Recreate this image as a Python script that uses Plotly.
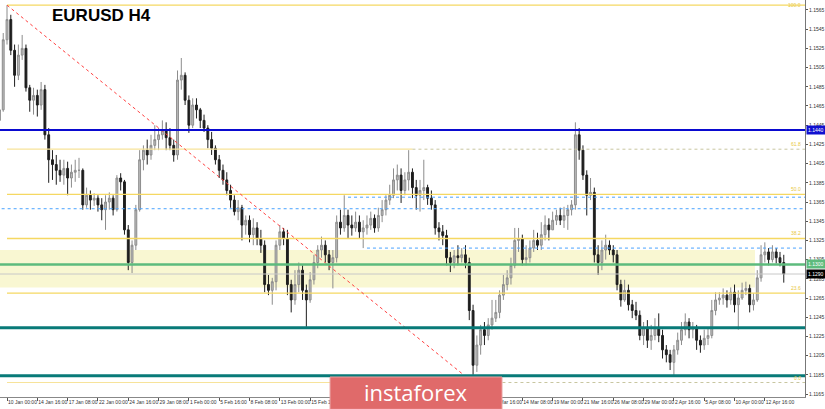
import plotly.graph_objects as go

# ---------------- data (EURUSD H4, one candle per 8h period) ----------------
period_index = list(range(-2, 206))

opens = [1.1450,1.1461,1.1534,1.1555,1.1523,1.1497,1.1518,1.1525,1.1484,1.1471,
1.1476,1.1466,1.1482,1.1435,1.1409,1.1404,1.1398,1.1393,1.1400,1.1390,
1.1396,1.1398,1.1398,1.1362,1.1372,1.1367,1.1369,1.1362,1.1357,1.1365,
1.1369,1.1357,1.1390,1.1386,1.1336,1.1302,1.1320,1.1357,1.1409,1.1419,
1.1414,1.1424,1.1430,1.1435,1.1440,1.1432,1.1424,1.1414,1.1492,1.1497,
1.1471,1.1445,1.1466,1.1461,1.1450,1.1442,1.1430,1.1421,1.1409,1.1398,
1.1388,1.1377,1.1367,1.1355,1.1359,1.1341,1.1346,1.1331,1.1338,1.1327,
1.1320,1.1279,1.1273,1.1282,1.1320,1.1334,1.1327,1.1279,1.1263,1.1279,
1.1294,1.1273,1.1263,1.1284,1.1302,1.1315,1.1320,1.1310,1.1302,1.1307,
1.1344,1.1338,1.1351,1.1341,1.1338,1.1344,1.1334,1.1338,1.1341,1.1348,
1.1338,1.1351,1.1357,1.1367,1.1372,1.1388,1.1393,1.1377,1.1388,1.1396,
1.1380,1.1372,1.1377,1.1380,1.1369,1.1362,1.1338,1.1334,1.1330,1.1307,
1.1302,1.1309,1.1307,1.1310,1.1302,1.1252,1.1195,1.1216,1.1232,1.1226,
1.1237,1.1244,1.1250,1.1268,1.1279,1.1286,1.1299,1.1325,1.1327,1.1305,
1.1307,1.1317,1.1325,1.1320,1.1331,1.1341,1.1336,1.1346,1.1351,1.1346,
1.1351,1.1357,1.1362,1.1435,1.1419,1.1393,1.1372,1.1375,1.1310,1.1302,
1.1315,1.1320,1.1315,1.1310,1.1279,1.1263,1.1273,1.1258,1.1252,1.1247,
1.1226,1.1234,1.1221,1.1226,1.1234,1.1226,1.1211,1.1206,1.1198,1.1211,
1.1221,1.1232,1.1240,1.1232,1.1234,1.1221,1.1216,1.1223,1.1226,1.1252,
1.1263,1.1265,1.1268,1.1263,1.1271,1.1258,1.1265,1.1273,1.1275,1.1258,
1.1263,1.1286,1.1310,1.1313,1.1305,1.1313,1.1307,1.1302]

highs = [1.1466,1.1541,1.1570,1.1560,1.1529,1.1529,1.1539,1.1529,1.1487,1.1484,
1.1482,1.1490,1.1487,1.1442,1.1419,1.1414,1.1409,1.1409,1.1407,1.1404,
1.1409,1.1411,1.1400,1.1380,1.1377,1.1374,1.1372,1.1369,1.1372,1.1375,
1.1372,1.1393,1.1395,1.1388,1.1341,1.1325,1.1362,1.1419,1.1424,1.1430,
1.1435,1.1445,1.1442,1.1450,1.1448,1.1442,1.1430,1.1502,1.1515,1.1500,
1.1476,1.1473,1.1473,1.1463,1.1456,1.1445,1.1438,1.1424,1.1414,1.1404,
1.1396,1.1383,1.1372,1.1367,1.1362,1.1351,1.1351,1.1348,1.1344,1.1336,
1.1325,1.1289,1.1286,1.1325,1.1341,1.1338,1.1336,1.1284,1.1294,1.1302,
1.1299,1.1279,1.1292,1.1310,1.1320,1.1329,1.1325,1.1315,1.1315,1.1351,
1.1357,1.1372,1.1357,1.1351,1.1355,1.1351,1.1346,1.1351,1.1355,1.1352,
1.1359,1.1367,1.1372,1.1383,1.1400,1.1404,1.1400,1.1396,1.1419,1.1400,
1.1388,1.1388,1.1409,1.1383,1.1377,1.1367,1.1344,1.1341,1.1336,1.1313,
1.1315,1.1320,1.1317,1.1320,1.1307,1.1258,1.1226,1.1237,1.1240,1.1244,
1.1263,1.1263,1.1273,1.1289,1.1294,1.1307,1.1338,1.1338,1.1331,1.1320,
1.1325,1.1336,1.1333,1.1344,1.1351,1.1348,1.1355,1.1357,1.1359,1.1360,
1.1362,1.1367,1.1448,1.1442,1.1424,1.1398,1.1390,1.1380,1.1320,1.1325,
1.1331,1.1325,1.1320,1.1315,1.1284,1.1284,1.1279,1.1263,1.1261,1.1252,
1.1240,1.1242,1.1237,1.1244,1.1249,1.1232,1.1216,1.1211,1.1216,1.1229,
1.1240,1.1249,1.1244,1.1240,1.1237,1.1226,1.1232,1.1234,1.1263,1.1271,
1.1271,1.1275,1.1273,1.1276,1.1279,1.1273,1.1281,1.1282,1.1279,1.1270,
1.1294,1.1320,1.1323,1.1317,1.1320,1.1317,1.1313,1.1310]

lows = [1.1440,1.1459,1.1529,1.1518,1.1485,1.1492,1.1513,1.1480,1.1459,1.1456,
1.1454,1.1461,1.1430,1.1385,1.1388,1.1383,1.1386,1.1383,1.1372,1.1380,
1.1386,1.1390,1.1357,1.1359,1.1357,1.1361,1.1355,1.1346,1.1336,1.1357,
1.1351,1.1355,1.1377,1.1331,1.1294,1.1291,1.1315,1.1355,1.1398,1.1404,
1.1409,1.1419,1.1419,1.1430,1.1419,1.1419,1.1407,1.1409,1.1482,1.1466,
1.1437,1.1442,1.1452,1.1442,1.1438,1.1421,1.1414,1.1404,1.1390,1.1383,
1.1372,1.1359,1.1351,1.1346,1.1325,1.1331,1.1323,1.1320,1.1320,1.1312,
1.1271,1.1268,1.1258,1.1273,1.1315,1.1320,1.1268,1.1250,1.1258,1.1271,
1.1263,1.1235,1.1260,1.1279,1.1296,1.1307,1.1302,1.1294,1.1275,1.1302,
1.1331,1.1334,1.1327,1.1330,1.1334,1.1327,1.1317,1.1331,1.1336,1.1333,
1.1334,1.1344,1.1351,1.1362,1.1369,1.1377,1.1364,1.1372,1.1377,1.1369,
1.1357,1.1355,1.1367,1.1362,1.1357,1.1331,1.1325,1.1320,1.1299,1.1292,
1.1296,1.1299,1.1302,1.1296,1.1242,1.1185,1.1188,1.1206,1.1216,1.1221,
1.1232,1.1240,1.1244,1.1263,1.1273,1.1279,1.1296,1.1313,1.1299,1.1299,
1.1302,1.1313,1.1315,1.1315,1.1325,1.1325,1.1336,1.1341,1.1341,1.1338,
1.1336,1.1351,1.1357,1.1409,1.1388,1.1351,1.1367,1.1302,1.1289,1.1294,
1.1305,1.1310,1.1302,1.1273,1.1256,1.1261,1.1252,1.1244,1.1242,1.1221,
1.1216,1.1213,1.1211,1.1221,1.1219,1.1202,1.1198,1.1190,1.1184,1.1206,
1.1216,1.1226,1.1223,1.1223,1.1211,1.1208,1.1211,1.1216,1.1223,1.1247,
1.1258,1.1258,1.1255,1.1258,1.1250,1.1232,1.1263,1.1268,1.1250,1.1252,
1.1261,1.1282,1.1302,1.1299,1.1302,1.1301,1.1298,1.1281]

closes = [1.1461,1.1534,1.1555,1.1523,1.1497,1.1518,1.1525,1.1484,1.1471,1.1476,
1.1466,1.1482,1.1435,1.1409,1.1404,1.1398,1.1393,1.1400,1.1390,1.1396,
1.1398,1.1398,1.1362,1.1372,1.1367,1.1369,1.1362,1.1357,1.1365,1.1369,
1.1357,1.1390,1.1386,1.1336,1.1302,1.1320,1.1357,1.1409,1.1419,1.1414,
1.1424,1.1430,1.1435,1.1440,1.1432,1.1424,1.1414,1.1492,1.1497,1.1471,
1.1445,1.1466,1.1461,1.1450,1.1442,1.1430,1.1421,1.1409,1.1398,1.1388,
1.1377,1.1367,1.1355,1.1359,1.1341,1.1346,1.1331,1.1338,1.1327,1.1320,
1.1279,1.1273,1.1282,1.1320,1.1334,1.1327,1.1279,1.1263,1.1279,1.1294,
1.1273,1.1263,1.1284,1.1302,1.1315,1.1320,1.1310,1.1302,1.1307,1.1344,
1.1338,1.1351,1.1341,1.1338,1.1344,1.1334,1.1338,1.1341,1.1348,1.1338,
1.1351,1.1357,1.1367,1.1372,1.1388,1.1393,1.1377,1.1388,1.1396,1.1380,
1.1372,1.1377,1.1380,1.1369,1.1362,1.1338,1.1334,1.1330,1.1307,1.1302,
1.1309,1.1307,1.1310,1.1302,1.1252,1.1195,1.1216,1.1232,1.1226,1.1237,
1.1244,1.1250,1.1268,1.1279,1.1286,1.1299,1.1325,1.1327,1.1305,1.1307,
1.1317,1.1325,1.1320,1.1331,1.1341,1.1336,1.1346,1.1351,1.1346,1.1351,
1.1357,1.1362,1.1435,1.1419,1.1393,1.1372,1.1375,1.1310,1.1302,1.1315,
1.1320,1.1315,1.1310,1.1279,1.1263,1.1273,1.1258,1.1252,1.1247,1.1226,
1.1234,1.1221,1.1226,1.1234,1.1226,1.1211,1.1206,1.1198,1.1211,1.1221,
1.1232,1.1240,1.1232,1.1234,1.1221,1.1216,1.1223,1.1226,1.1252,1.1263,
1.1265,1.1268,1.1263,1.1271,1.1258,1.1265,1.1273,1.1275,1.1258,1.1263,
1.1286,1.1310,1.1313,1.1305,1.1313,1.1307,1.1302,1.1290]

time_labels = ["10 Jan 00:00", "14 Jan 16:00", "17 Jan 08:00", "22 Jan 00:00",
               "24 Jan 16:00", "29 Jan 08:00", "1 Feb 00:00", "5 Feb 16:00",
               "8 Feb 08:00", "13 Feb 00:00", "15 Feb 16:00", "20 Feb 08:00",
               "25 Feb 00:00", "27 Feb 16:00", "4 Mar 08:00", "7 Mar 00:00",
               "11 Mar 16:00", "14 Mar 08:00", "19 Mar 00:00", "21 Mar 16:00",
               "26 Mar 08:00", "29 Mar 00:00", "2 Apr 16:00", "5 Apr 08:00",
               "10 Apr 00:00", "12 Apr 16:00"]
time_label_periods = [i * 8 for i in range(len(time_labels))]

price_ticks = [1.1565, 1.1545, 1.1525, 1.1505, 1.1485, 1.1465, 1.1445, 1.1425,
               1.1405, 1.1385, 1.1365, 1.1345, 1.1325, 1.1305, 1.1285, 1.1265,
               1.1245, 1.1225, 1.1205, 1.1185, 1.1165]

fib_levels = [1.1570, 1.1420, 1.1373, 1.1327, 1.1270, 1.1177]
fib_names = ["100.0", "61.8", "50.0", "38.2", "23.6", "0.0"]
fib_from = [0, 0, 0, 0, 0, 0]
fib_solid_to = [None, 107, None, None, None, 107]   # where a level turns dotted
fib_anchor_periods = [0, 123]
fib_anchor_prices = [1.1570, 1.1177]

resistance_level = 1.1440
pivot_level = 1.1300
current_price = 1.1290
support_levels = [1.1234, 1.1184]
dotted_levels = [1.1358, 1.1370, 1.1317]
dotted_from = [None, 90, 95]
zone_low, zone_high, zone_end = 1.1276, 1.1315, 197.4

# ---------------- figure ----------------
fig = go.Figure()
fig.add_trace(go.Candlestick(
    x=period_index, open=opens, high=highs, low=lows, close=closes,
    increasing=dict(line=dict(color="#8c8c8c", width=1), fillcolor="#bdbdbd"),
    decreasing=dict(line=dict(color="#1e1e1e", width=1), fillcolor="#1e1e1e"),
    whiskerwidth=0, showlegend=False, hoverinfo="skip"))

shapes = []
shapes.append(dict(type="rect", xref="x", yref="y", x0=-3, x1=zone_end,
                   y0=zone_low, y1=zone_high, fillcolor="#f9f7d2",
                   line=dict(width=0), layer="below"))
for lvl, start, solid_to in zip(fib_levels, fib_from, fib_solid_to):
    if solid_to is None:
        shapes.append(dict(type="line", xref="x", yref="y", x0=start, x1=212,
                           y0=lvl, y1=lvl, line=dict(color="#f5d862", width=1.3)))
    else:
        shapes.append(dict(type="line", xref="x", yref="y", x0=start, x1=solid_to,
                           y0=lvl, y1=lvl, line=dict(color="#f7e39a", width=1.2)))
        shapes.append(dict(type="line", xref="x", yref="y", x0=solid_to, x1=212,
                           y0=lvl, y1=lvl,
                           line=dict(color="#c8c6a0", width=1, dash="dot")))
shapes.append(dict(type="line", xref="x", yref="y",
                   x0=fib_anchor_periods[0], x1=fib_anchor_periods[1],
                   y0=fib_anchor_prices[0], y1=fib_anchor_prices[1],
                   line=dict(color="#ff4040", width=1, dash="dot")))
for lvl, start in zip(dotted_levels, dotted_from):
    shapes.append(dict(type="line", xref="x", yref="y",
                       x0=-3 if start is None else start, x1=212, y0=lvl, y1=lvl,
                       line=dict(color="#4aa3ff", width=1, dash="dot")))
shapes.append(dict(type="line", xref="x domain", yref="y", x0=0, x1=1,
                   y0=resistance_level, y1=resistance_level,
                   line=dict(color="#0a0ad0", width=2)))
shapes.append(dict(type="line", xref="x domain", yref="y", x0=0, x1=1,
                   y0=current_price, y1=current_price,
                   line=dict(color="#c8c8c8", width=1)))
shapes.append(dict(type="line", xref="x domain", yref="y", x0=0, x1=1,
                   y0=pivot_level, y1=pivot_level,
                   line=dict(color="#5dbb7d", width=2.5)))
for lvl in support_levels:
    shapes.append(dict(type="line", xref="x domain", yref="y", x0=0, x1=1,
                       y0=lvl, y1=lvl, line=dict(color="#087a78", width=3)))
shapes.append(dict(type="rect", xref="paper", yref="paper",
                   x0=0.41, x1=0.6236, y0=0.0504, y1=-0.031,
                   fillcolor="#e06a6a", line=dict(color="#eaa0a0", width=1),
                   layer="above"))

annotations = []
annotations.append(dict(text="<b>EURUSD H4</b>", xref="paper", yref="paper",
                        x=0.062, y=0.96, xanchor="left", yanchor="middle",
                        showarrow=False,
                        font=dict(family="Liberation Sans, Arial", size=17,
                                  color="#000000")))
annotations.append(dict(text="instaforex", xref="paper", yref="paper",
                        x=0.517, y=0.012, xanchor="center", yanchor="middle",
                        showarrow=False,
                        font=dict(family="Open Sans", size=22, color="#ffffff")))
for i, (lvl, name) in enumerate(zip(fib_levels, fib_names)):
    annotations.append(dict(text=name, xref="paper", yref="y", x=0.998, y=lvl,
                            xanchor="right",
                            yanchor="middle" if i == 0 else "bottom",
                            showarrow=False,
                            font=dict(family="Liberation Sans", size=5,
                                      color="#e8c840")))
for lvl, bg in [(resistance_level, "#1010d0"), (pivot_level, "#5dbb7d"),
                (current_price, "#000000")]:
    annotations.append(dict(text=f"{lvl:.4f}", xref="paper", yref="y", x=1.0,
                            y=lvl, xanchor="left", yanchor="middle", xshift=1,
                            showarrow=False, bgcolor=bg, borderpad=1,
                            font=dict(family="Liberation Sans", size=5,
                                      color="#ffffff")))

fig.update_layout(
    width=825, height=409,
    margin=dict(l=0, r=20, t=0, b=12),
    paper_bgcolor="#ffffff", plot_bgcolor="#ffffff",
    shapes=shapes, annotations=annotations, showlegend=False,
    xaxis=dict(range=[-1.85, 210.6], rangeslider=dict(visible=False),
               tickvals=time_label_periods, ticktext=time_labels,
               tickangle=0,
               ticklabelposition="outside right", ticks="outside", ticklen=3,
               tickcolor="#555555", showgrid=False, zeroline=False,
               showline=True, linecolor="#888888", linewidth=1,
               automargin=False,
               tickfont=dict(family="Liberation Sans", size=5, color="#333333")),
    yaxis=dict(range=[1.11619, 1.15754], side="right",
               tickvals=price_ticks, ticktext=[f"{v:.4f}" for v in price_ticks],
               ticks="outside", ticklen=2, tickcolor="#555555",
               showgrid=False, zeroline=False, showline=True,
               linecolor="#777777", linewidth=1, automargin=False,
               tickfont=dict(family="Liberation Sans", size=5, color="#333333")),
)

fig.write_html("out.html",
               config={"displayModeBar": False},
               post_script="document.body.style.margin='0';"
                           "document.body.style.overflow='hidden';")
